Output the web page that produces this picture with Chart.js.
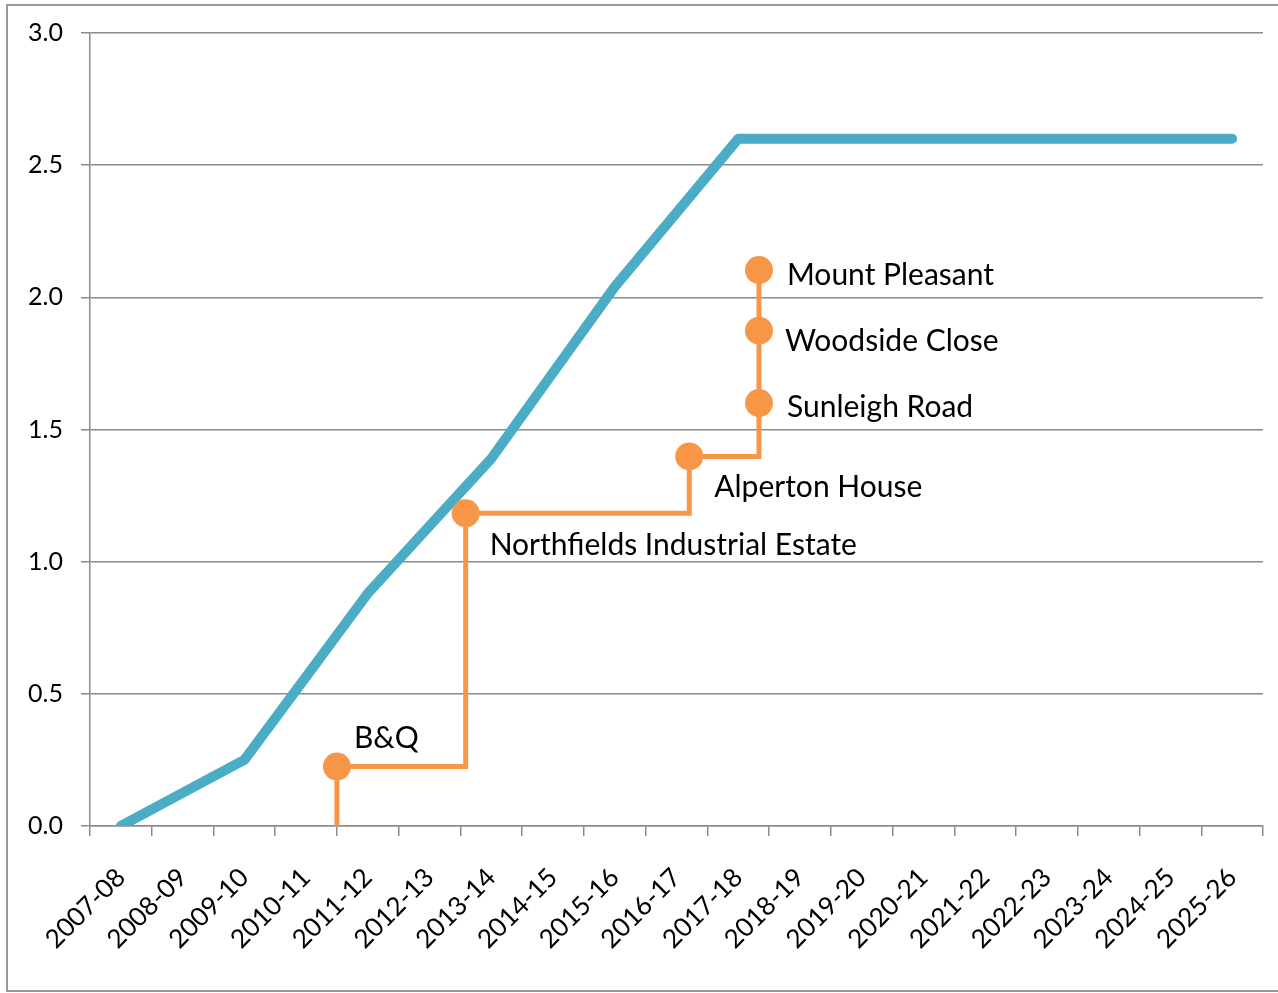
<!DOCTYPE html>
<html>
<head>
<meta charset="utf-8">
<script src="https://cdn.jsdelivr.net/npm/chart.js@4"></script>
<style>
    body { margin: 0; background: #fff; }
    #wrap { width: 1278px; height: 993px; }
</style>
</head>
<body>
<div id="wrap"><canvas id="chart"></canvas></div>
<script>
// years on the category axis
const years = ['2007-08', '2008-09', '2009-10', '2010-11', '2011-12', '2012-13', '2013-14',
    '2014-15', '2015-16', '2016-17', '2017-18', '2018-19', '2019-20', '2020-21', '2021-22',
    '2022-23', '2023-24', '2024-25', '2025-26'];

// blue trajectory
const target = [0, 0.125, 0.25, 0.565, 0.88, 1.135, 1.39, 1.715, 2.04, 2.32, 2.6,
    2.6, 2.6, 2.6, 2.6, 2.6, 2.6, 2.6, 2.6];

// orange sites (x is a position in year index units, cumulative y)
const siteNames = ['B&Q', 'Northfields Industrial Estate', 'Alperton House', 'Sunleigh Road', 'Woodside Close', 'Mount Pleasant'];
const siteX = [3.5, 5.585, 9.207, 10.336, 10.336, 10.336];
const siteY = [0.225, 1.183, 1.398, 1.60, 1.874, 2.103];

const yTicks = [0, 0.5, 1, 1.5, 2, 2.5, 3];

// where each label sits relative to its marker (px)
const labelDx = [17, 24, 25, 28, 26, 28];
const labelDy = [-19, 42, 41, 14, 20, 15];

const FONT = 'Lato, "Open Sans", sans-serif';
const GRID = '#8c8c8c';
const ORANGE = '#F79646';

const sitePoints = [{ x: siteX[0], y: 0 }];
siteX.forEach((x, i) => sitePoints.push({ x: x, y: siteY[i] }));

const frame = {
    id: 'frame',
    beforeDraw(chart) {
        const ctx = chart.ctx;
        ctx.save();
        ctx.strokeStyle = '#9a9a9a';
        ctx.lineWidth = 2;
        ctx.strokeRect(7, 5, 1300, 986);
        ctx.restore();
    }
};

const siteLabels = {
    id: 'siteLabels',
    afterDatasetsDraw(chart) {
        const ctx = chart.ctx;
        const xs = chart.scales.x2;
        const ys = chart.scales.y;
        ctx.save();
        ctx.font = '30px ' + FONT;
        ctx.fillStyle = '#000';
        ctx.textAlign = 'left';
        ctx.textBaseline = 'alphabetic';
        siteNames.forEach((name, i) => {
            const px = xs.getPixelForValue(siteX[i]) + labelDx[i];
            const py = ys.getPixelForValue(siteY[i]) + labelDy[i];
            ctx.fillText(name, px, py);
        });
        ctx.restore();
    }
};

new Chart(document.getElementById('chart'), {
    type: 'line',
    data: {
        labels: years,
        datasets: [
            {
                data: target,
                xAxisID: 'x',
                borderColor: '#4BACC6',
                borderWidth: 10,
                borderCapStyle: 'round',
                borderJoinStyle: 'round',
                pointRadius: 0,
                order: 1
            },
            {
                data: sitePoints,
                xAxisID: 'x2',
                borderColor: ORANGE,
                borderWidth: 5,
                stepped: 'before',
                pointRadius: [0, 14, 14, 14, 14, 14, 14],
                pointBackgroundColor: ORANGE,
                pointBorderWidth: 0,
                order: 0
            }
        ]
    },
    options: {
        responsive: true,
        maintainAspectRatio: false,
        animation: false,
        layout: { padding: { top: 32, right: 15, left: 0, bottom: 0 } },
        plugins: { legend: { display: false }, tooltip: { enabled: false } },
        scales: {
            x: {
                type: 'category',
                offset: true,
                grid: { drawOnChartArea: false, offset: true, tickLength: 10, color: GRID, lineWidth: 1.5 },
                border: { color: GRID, width: 1.5 },
                ticks: {
                    minRotation: 45, maxRotation: 45, padding: 26,
                    color: '#000', font: { family: FONT, size: 26 }
                },
                afterFit(scale) {
                    scale.height = 167;
                    scale.paddingRight = 0;
                    scale.paddingLeft = 0;
                }
            },
            x2: {
                type: 'linear',
                display: false,
                min: -0.5,
                max: 18.5
            },
            y: {
                min: 0,
                max: 3,
                afterBuildTicks(scale) { scale.ticks = yTicks.map(v => ({ value: v })); },
                grid: { color: GRID, lineWidth: 1.5, tickLength: 9 },
                border: { color: GRID, width: 1.5 },
                ticks: {
                    padding: 18, color: '#000', font: { family: FONT, size: 25 },
                    callback: v => v.toFixed(1)
                },
                afterFit(scale) { scale.width = 90; }
            }
        }
    },
    plugins: [frame, siteLabels]
});
</script>
</body>
</html>
